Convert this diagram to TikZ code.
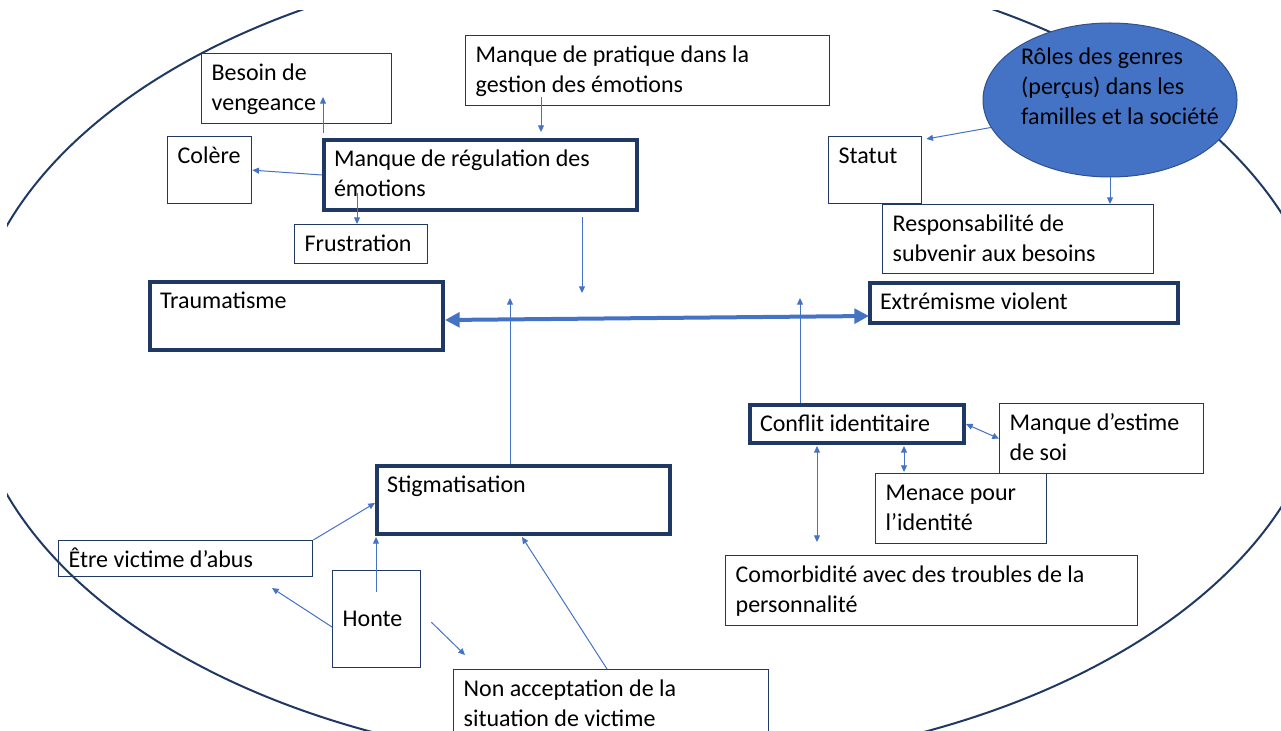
\documentclass[tikz,border=0pt]{standalone}
\usepackage{fontspec}
\setmainfont{Carlito}
\usepackage{tikz}
\usetikzlibrary{calc,arrows.meta,shapes.geometric}
\definecolor{boxNavy}{RGB}{32, 56, 100}
\definecolor{linkBlue}{RGB}{68, 114, 196}
\definecolor{blobEdge}{RGB}{47, 82, 143}
\newlength\pxu
\setlength\pxu{0.75pt}
\newcommand{\boxtxt}[3]{\parbox[t][\dimexpr#2\pxu-8.5pt\relax][t]{\dimexpr#1\pxu-15pt\relax}{\raggedright\strut#3}}

\begin{document}
\begin{tikzpicture}
  [
    x=0.75pt, y=-0.75pt,
    Box/.style={draw=boxNavy, line width=1pt, anchor=north west, inner xsep=7.5pt, inner ysep=4.25pt, font=\fontsize{18}{22.5}\selectfont},
    BoldBox/.style={Box, line width=3pt},
    Blob/.style={ellipse, draw=blobEdge, line width=0.75pt, fill=linkBlue, minimum width=190.5pt, minimum height=115.5pt, inner sep=0pt, font=\fontsize{18}{22.5}\selectfont},
    Rim/.style={draw=boxNavy, line width=1.5pt},
    Link/.style={draw=linkBlue, line width=0.75pt, -{Triangle[length=5pt,width=4.5pt]}},
    BothLink/.style={Link, {Triangle[length=5pt,width=4.5pt]}-{Triangle[length=5pt,width=4.5pt]}},
    BigLink/.style={draw=linkBlue, line width=3pt, {Triangle[length=11pt,width=11pt]}-{Triangle[length=11pt,width=11pt]}}
  ]
  \clip (0,0) rectangle (1281,731);
  % Outline
  \begin{scope}
    \clip (7,11) rectangle (1281,731);
    \draw[Rim] (648,360) ellipse [x radius=679, y radius=407];
  \end{scope}

  % Nodes
  \node[Box] (v1) at (201,53) {\boxtxt{190}{70}{Besoin de\\vengeance}};
  \node[Box] (v2) at (167,136) {\boxtxt{84}{67}{Colère}};
  \node[BoldBox] (v3) at (322,138) {\boxtxt{313}{70}{Manque de régulation des\\émotions}};
  \node[Box] (v4) at (294,224) {\boxtxt{133}{39}{Frustration}};
  \node[Box] (v5) at (465,35) {\boxtxt{364}{70}{Manque de pratique dans la\\gestion des émotions}};
  \node[BoldBox] (v6) at (148,280) {\boxtxt{293}{68}{Traumatisme}};
  \node[BoldBox] (v7) at (868,281) {\boxtxt{308}{40}{Extrémisme violent}};
  \node[Box] (v8) at (828,136) {\boxtxt{93}{67}{Statut}};
  \node[Box] (v9) at (882,204) {\boxtxt{271}{69}{Responsabilité de\\subvenir aux besoins}};
  \node[Blob] (v10) at (1110,100) {\raisebox{4.5pt}[0pt][0pt]{\makebox[0pt]{\hspace{15pt}\begin{tabular}{@{}l@{}}Rôles des genres\\(perçus) dans les\\familles et la société\end{tabular}}}};
  \node[BoldBox] (v11) at (375,464) {\boxtxt{293}{68}{Stigmatisation}};
  \node[Box] (v12) at (58,540) {\boxtxt{254}{36}{Être victime d’abus}};
  \node[Box] (v13) at (332,570) {\parbox[t][\dimexpr97\pxu-8.5pt\relax][c]{\dimexpr88\pxu-15pt\relax}{Honte}};
  \node[Box] (v14) at (453,669) {\boxtxt{315}{90}{Non acceptation de la\\situation de victime}};
  \node[BoldBox] (v15) at (748,403) {\boxtxt{214}{38}{Conflit identitaire}};
  \node[Box] (v16) at (999,403) {\boxtxt{204}{70}{Manque d’estime\\de soi}};
  \node[Box] (v17) at (875,473) {\boxtxt{171}{70}{Menace pour\\l’identité}};
  \node[Box] (v18) at (725,555) {\boxtxt{412}{70}{Comorbidité avec des troubles de la\\personnalité}};
  \coordinate (c1) at (272,588);
  \coordinate (c2) at (465,655);

  % Lines
  \path [Link] ($(v3.north west)+(1,-5)$) -- ($(v1.north west)+(122,44)$);
  \path [Link] (v3.west) -- (v2.east);
  \path [Link] ($(v3.north west)+(35,55)$) -- ($(v4.north west)+(63,0)$);
  \path [Link] ($(v5.north west)+(76,62)$) -- ($(v3.north west)+(219,-6)$);
  \path [Link] ($(v3.south west)+(260,5)$) -- ($(v3.south west)+(260,81)$);
  \path [BigLink] ($(v6.east)+(0,4)$) -- ($(v7.south west)+(1,-9)$);
  \path [Link] ($(v11.north west)+(135,0)$) -- ($(v11.north west)+(135,-166)$);
  \path [Link] ($(v15.north west)+(52,0)$) -- ($(v15.north west)+(52,-105)$);
  \path [Link] (v10.193) -- ($(v8.north east)+(4,3)$);
  \path [Link] (v10.south) -- (v9.north -| v10.south);
  \path [BothLink] (v15.east) -- (v16.west);
  \path [BothLink] ($(v15.south west)+(156,1)$) -- ($(v17.north west)+(29,-1)$);
  \path [BothLink] ($(v15.south west)+(69,1)$) -- ($(v18.north west)+(92,-13)$);
  \path [Link] (v12.north east) -- ($(v11.north west)+(0,39)$);
  \path [Link] ($(v13.north west)+(44,22)$) -- ($(v11.south west)+(1,1)$);
  \path [Link] ($(v13.north west)+(0,57)$) -- (c1);
  \path [Link] ($(v13.east)+(10,3)$) -- (c2);
  \path [Link] ($(v14.north west)+(154,0)$) -- ($(v11.south west)+(147,1)$);
\end{tikzpicture}
\end{document}
